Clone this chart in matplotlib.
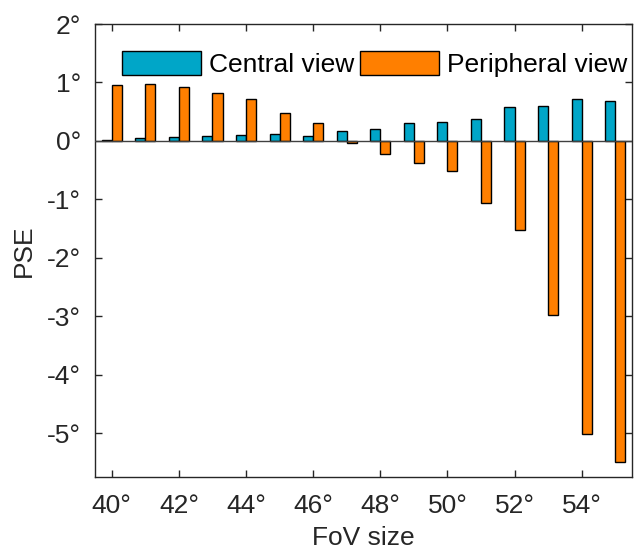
import numpy as np
import matplotlib
matplotlib.use("Agg")
import matplotlib.pyplot as plt

# FoV size (deg) and PSE values
fov = [40, 41, 42, 43, 44, 45, 46, 47, 48, 49, 50, 51, 52, 53, 54, 55]
central = [0.01, 0.046, 0.068, 0.08, 0.097, 0.12, 0.08, 0.171,
           0.211, 0.313, 0.33, 0.37, 0.575, 0.604, 0.712, 0.689]
peripheral = [0.957, 0.974, 0.929, 0.815, 0.718, 0.479, 0.302, -0.034,
              -0.222, -0.37, -0.507, -1.065, -1.52, -2.98, -5.01, -5.49]
xticks = [40, 42, 44, 46, 48, 50, 52, 54]
yticks = [-5, -4, -3, -2, -1, 0, 1, 2]

plt.rcParams['font.family'] = ['Liberation Sans', 'DejaVu Sans']
plt.rcParams['font.size'] = 19
txt = "#262626"

fig = plt.figure(figsize=(6.34, 5.53), dpi=100, facecolor="white")
ax = fig.add_axes([95/634, 1-477/553, (632-95)/634, (477-24)/553])

x = np.array(fov)
w = 0.3
ax.bar(x - w/2, central, width=w, color="#00A6C8", edgecolor="black",
       linewidth=1, label="Central view", zorder=2)
ax.bar(x + w/2, peripheral, width=w, color="#FF7F00", edgecolor="black",
       linewidth=1, label="Peripheral view", zorder=2)
ax.axhline(0, color="#404040", linewidth=1, zorder=3)

ax.set_xlim(39.5, 55.5)
ax.set_ylim(-5.75, 2)
ax.set_xticks(xticks)
ax.set_xticklabels(["%d°" % t for t in xticks])
ax.set_yticks(yticks)
ax.set_yticklabels(["%d°" % t for t in yticks])
ax.tick_params(axis="x", pad=12)
ax.tick_params(axis="y", pad=10)
ax.tick_params(direction="in", top=True, right=True, length=5, width=1,
               colors=txt, labelcolor=txt)
for s in ax.spines.values():
    s.set_color(txt)
    s.set_linewidth(1)

ax.set_xlabel("FoV size", color=txt, labelpad=6)
ax.set_ylabel("PSE", color=txt, labelpad=8)

ax.legend(loc="upper left", bbox_to_anchor=(0.03, 0.963), ncol=2,
          frameon=False, handlelength=3.0, handleheight=1.0,
          handletextpad=0.3, columnspacing=0.22, borderaxespad=0,
          labelcolor="black")

fig.savefig("out.png", dpi=100)
